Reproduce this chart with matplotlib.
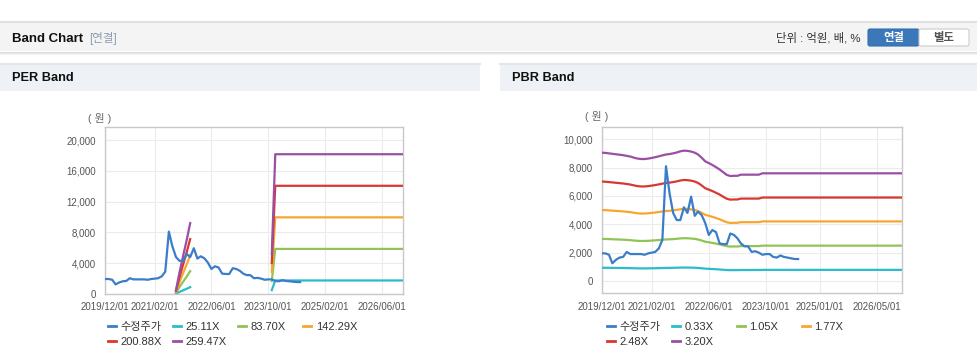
import numpy as np
import pandas as pd
import matplotlib
matplotlib.use("Agg")
import matplotlib.pyplot as plt
from matplotlib.patches import Rectangle, FancyBboxPatch
from matplotlib.lines import Line2D

plt.rcParams['font.family'] = ['Liberation Sans', 'Noto Sans CJK KR']

# === 데이터 ===
# 수정주가 (월별, 2019/12 ~ 2024/07)
price_dates = pd.date_range('2019-12-01', '2024-07-01', freq='MS')
price = [1950, 1950, 1850, 1250, 1500, 1650, 1700, 2050, 1900, 1900,
         1900, 1900, 1850, 1950, 2000, 2050, 2300, 2900, 8100, 6200,
         4800, 4300, 4300, 5200, 4800, 5950, 4600, 4900, 4650, 4100,
         3250, 3600, 3450, 2650, 2600, 2600, 3350, 3250, 3000, 2650,
         2450, 2450, 2050, 2100, 2000, 1850, 1900, 1900, 1700, 1650,
         1800, 1700, 1650, 1600, 1550, 1550]

# PER band: EPS (두 구간만 존재)
eps_dates_1 = pd.to_datetime(['2021-08-01', '2021-09-01', '2021-10-01', '2021-11-01', '2021-12-01'])
eps_1 = [2, 11, 19, 27, 35.5]
eps_dates_2 = pd.to_datetime(['2023-11-01', '2023-12-01', '2026-12-01'])
eps_2 = [20, 70, 70]
per_mult = [25.11, 83.70, 142.29, 200.88, 259.47]
per_labels = ['25.11X', '83.70X', '142.29X', '200.88X', '259.47X']

# PBR band: BPS (월별 ~ 2023/09, 이후 고정)
bps_dates = pd.date_range('2019-12-01', '2023-09-01', freq='MS').append(pd.DatetimeIndex(['2026-12-01']))
bps = [2830, 2825, 2815, 2805, 2795, 2785, 2775, 2760, 2745, 2720,
       2700, 2690, 2690, 2700, 2715, 2730, 2750, 2770, 2790, 2800,
       2815, 2835, 2860, 2875, 2870, 2855, 2830, 2790, 2720, 2640,
       2600, 2560, 2510, 2460, 2400, 2340, 2315, 2320, 2320, 2345,
       2345, 2345, 2345, 2345, 2345, 2375, 2375]
pbr_mult = [0.33, 1.05, 1.77, 2.48, 3.20]
pbr_labels = ['0.33X', '1.05X', '1.77X', '2.48X', '3.20X']

per_xticks = ['2019-12-01', '2021-02-01', '2022-06-01', '2023-10-01', '2025-02-01', '2026-06-01']
pbr_xticks = ['2019-12-01', '2021-02-01', '2022-06-01', '2023-10-01', '2025-01-01', '2026-05-01']

price_color = '#3b7dc8'
band_colors = ['#2bbccc', '#91c356', '#f7a731', '#d93731', '#9a4fa5']

W, H = 978, 361
fig = plt.figure(figsize=(W / 100, H / 100), dpi=100)
fig.patch.set_facecolor('white')

# === 상단 헤더 (픽셀 좌표) ===
bg = fig.add_axes([0, 0, 1, 1], zorder=-1)
bg.set_xlim(0, W)
bg.set_ylim(H, 0)
bg.axis('off')

bg.add_patch(Rectangle((0, 21), W, 30, fc='#f4f4f4', ec='none'))
bg.plot([0, W], [21.5, 21.5], color='#e0e0e0', lw=1.5)
for i, c in enumerate(['#dcdcdc', '#e8e8e8', '#f2f2f2']):
    bg.plot([0, W], [51.5 + i, 51.5 + i], color=c, lw=0.8)
bg.text(12, 38.5, 'Band Chart', fontsize=9.5, fontweight='bold', color='#111111', va='center')
bg.text(89, 38.5, '[연결]', fontsize=8.3, color='#8a9bb0', va='center')
bg.text(861, 38, '단위 : 억원, 배, %', fontsize=8.2, color='#333333', va='center', ha='right')
bg.add_patch(FancyBboxPatch((868, 29), 51, 17, boxstyle='round,pad=0,rounding_size=2',
                            fc='#3b78b9', ec='#3470ae', lw=0.8))
bg.add_patch(FancyBboxPatch((919, 29), 50, 17, boxstyle='round,pad=0,rounding_size=2',
                            fc='white', ec='#cccccc', lw=0.8))
bg.text(893.5, 38, '연결', fontsize=8.2, fontweight='bold', color='white', ha='center', va='center')
bg.text(944, 38, '별도', fontsize=8.2, fontweight='bold', color='#555555', ha='center', va='center')

for x0, w, title in [(0, 480, 'PER Band'), (500, 478, 'PBR Band')]:
    bg.add_patch(Rectangle((x0, 63), w, 28, fc='#eef1f6', ec='none'))
    bg.plot([x0, x0 + w], [63.5, 63.5], color='#e2e5ea', lw=1.5)
    bg.text(x0 + 12, 78, title, fontsize=9.2, fontweight='bold', color='#111111', va='center')


def style_axes(ax, xticks, yticks, ylim):
    ax.set_xlim(pd.Timestamp('2019-12-01'), pd.Timestamp('2026-12-01'))
    ax.set_ylim(*ylim)
    ticks = pd.to_datetime(xticks)
    ax.set_xticks(ticks)
    ax.set_xticklabels([t.strftime('%Y/%m/%d') for t in ticks])
    ax.set_yticks(yticks)
    ax.set_yticklabels([f'{v:,}' for v in yticks])
    ax.tick_params(length=0, labelsize=7, labelcolor='#555555')
    ax.tick_params(axis='x', pad=6)
    ax.tick_params(axis='y', pad=6.5)
    ax.grid(True, color='#ececec', lw=0.8)
    ax.set_axisbelow(True)
    for s in ax.spines.values():
        s.set_color('#c8c8c8')
        s.set_linewidth(1)


def add_legend(x_px, labels, colors):
    # 4열 범례, 열 간격 65px
    cols = [[0, 4], [1, 5], [2], [3]]
    for c, idx in enumerate(cols):
        hs = [Line2D([], [], color=colors[i], lw=2) for i in idx if i < len(labels)]
        ls = [labels[i] for i in idx if i < len(labels)]
        fig.legend(hs, ls, loc='upper left', bbox_to_anchor=((x_px + 65 * c) / W, 1 - 322 / H),
                   frameon=False, fontsize=8, labelcolor='#333333', handlelength=0.75,
                   handletextpad=0.4, labelspacing=0.45, borderpad=0, borderaxespad=0)


# === PER Band ===
ax1 = fig.add_axes([105 / W, 1 - 294 / H, 298 / W, 167 / H])
ax1.plot(price_dates, price, color=price_color, lw=1.6, zorder=5)
for m, c in zip(per_mult, band_colors):
    ax1.plot(eps_dates_1, np.array(eps_1) * m, color=c, lw=1.6, zorder=3)
    ax1.plot(eps_dates_2, np.array(eps_2) * m, color=c, lw=1.6, zorder=3)
style_axes(ax1, per_xticks, list(range(0, 20001, 4000)), (0, 21700))
fig.text(100 / W, 1 - 118 / H, '( 원 )', fontsize=7.8, color='#666666', ha='center', va='center')
add_legend(108, ['수정주가'] + per_labels, [price_color] + band_colors)

# === PBR Band ===
ax2 = fig.add_axes([601.7 / W, 1 - 293.3 / H, 300 / W, 166.6 / H])
for m, c in zip(pbr_mult, band_colors):
    ax2.plot(bps_dates, np.array(bps) * m, color=c, lw=1.6, zorder=3)
ax2.plot(price_dates, price, color=price_color, lw=1.6, zorder=5)
style_axes(ax2, pbr_xticks, list(range(0, 10001, 2000)), (-870, 10890))
fig.text(596.7 / W, 1 - 117 / H, '( 원 )', fontsize=7.8, color='#666666', ha='center', va='center')
add_legend(606.7, ['수정주가'] + pbr_labels, [price_color] + band_colors)

fig.savefig('out.png', dpi=100, facecolor='white')
